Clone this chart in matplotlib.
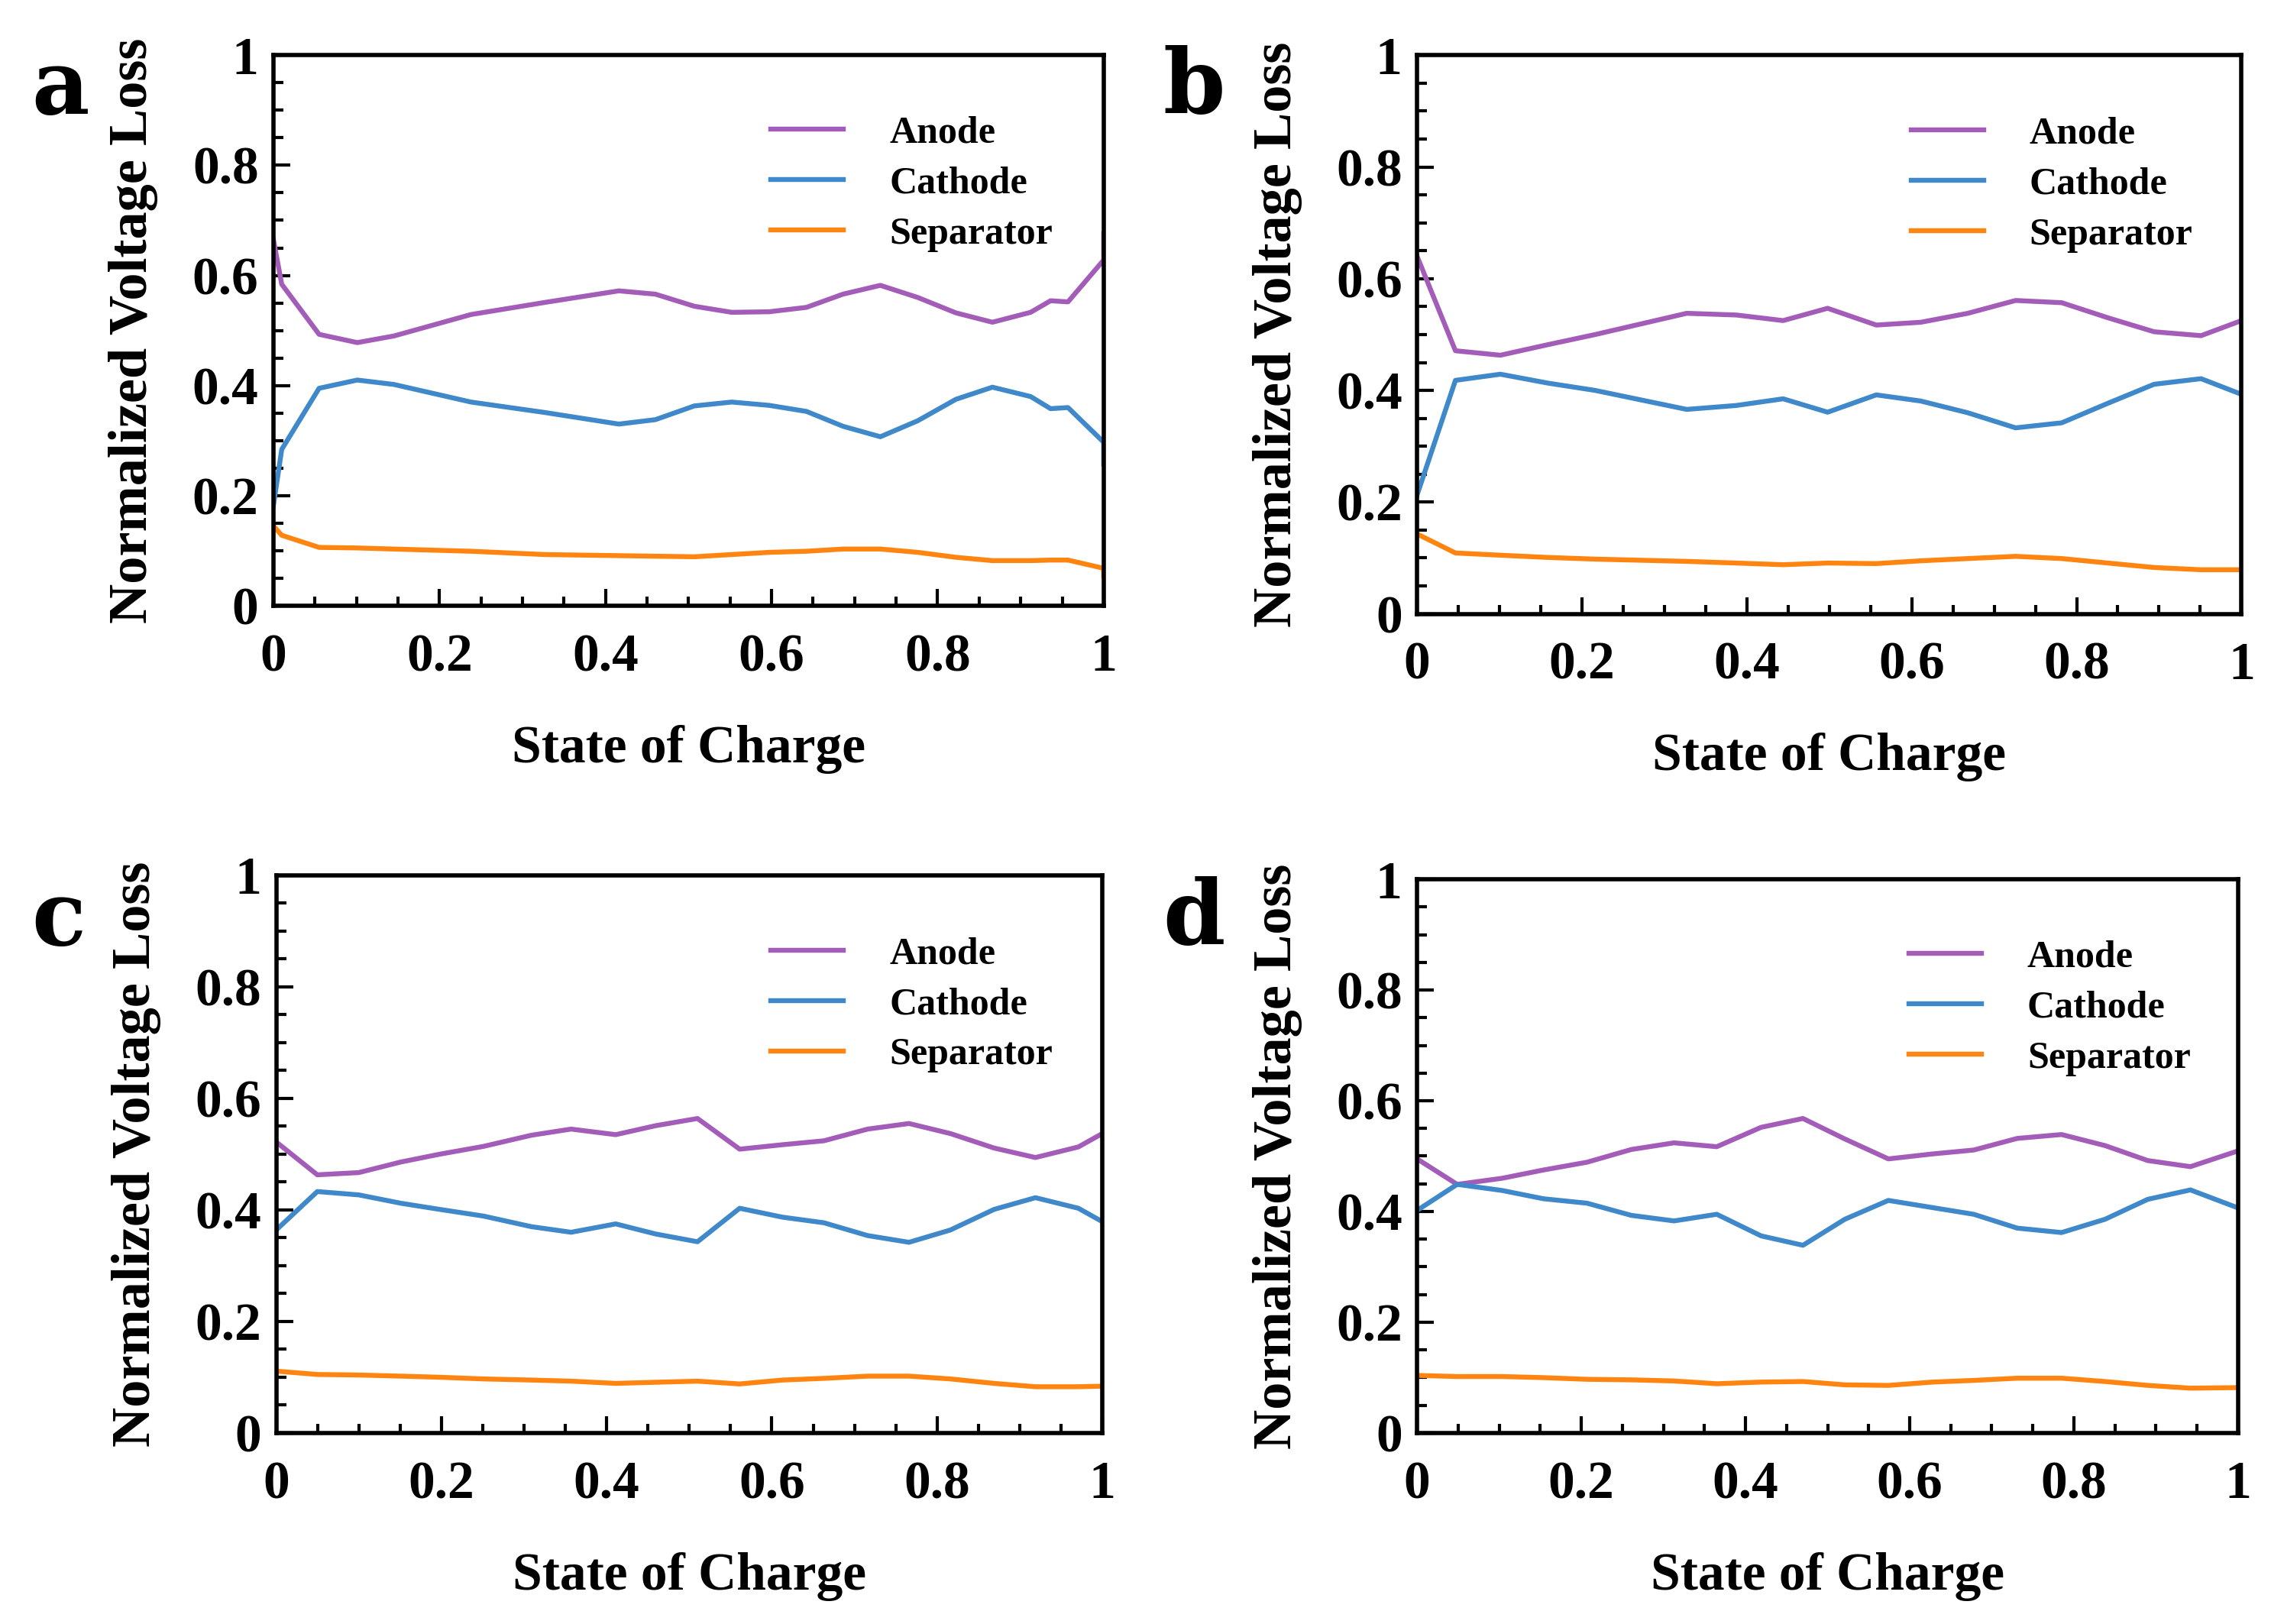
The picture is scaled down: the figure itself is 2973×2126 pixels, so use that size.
import matplotlib
matplotlib.use("Agg")
import matplotlib.pyplot as plt
from matplotlib.ticker import MultipleLocator

plt.rcParams['font.family'] = 'serif'
plt.rcParams['font.serif'] = ['Liberation Serif', 'DejaVu Serif']
plt.rcParams['font.weight'] = 'bold'

# colours of the three regions
c_anode = '#a45cb9'
c_cathode = '#3f88c9'
c_sep = '#ff8410'

# panel a
soc_a = [0, 0.01, 0.055, 0.101, 0.145, 0.238, 0.327, 0.416, 0.46, 0.507, 0.552, 0.597,
         0.642, 0.686, 0.731, 0.776, 0.822, 0.866, 0.912, 0.936, 0.957, 1.0, 1.0]
anode_a = [0.665, 0.584, 0.493, 0.478, 0.490, 0.529, 0.551, 0.572, 0.566, 0.544, 0.533, 0.534,
           0.542, 0.566, 0.582, 0.560, 0.532, 0.515, 0.533, 0.554, 0.552, 0.628, 0.676]
cathode_a = [0.182, 0.284, 0.395, 0.410, 0.402, 0.370, 0.351, 0.330, 0.338, 0.363, 0.370, 0.364,
             0.353, 0.326, 0.307, 0.336, 0.375, 0.397, 0.380, 0.358, 0.360, 0.297, 0.257]
sep_a = [0.145, 0.128, 0.106, 0.105, 0.103, 0.099, 0.093, 0.091, 0.090, 0.089, 0.093, 0.097,
         0.099, 0.103, 0.103, 0.097, 0.088, 0.082, 0.082, 0.083, 0.083, 0.068, 0.054]

# panel b
soc_b = [0, 0.0465, 0.101, 0.159, 0.216, 0.327, 0.387, 0.444, 0.498, 0.557, 0.611, 0.668,
         0.726, 0.782, 0.838, 0.894, 0.951, 1.0]
anode_b = [0.640, 0.471, 0.463, 0.482, 0.500, 0.538, 0.535, 0.525, 0.547, 0.517, 0.522, 0.538,
           0.561, 0.557, 0.530, 0.505, 0.498, 0.525]
cathode_b = [0.213, 0.418, 0.429, 0.413, 0.400, 0.366, 0.373, 0.385, 0.361, 0.392, 0.381, 0.360,
             0.333, 0.342, 0.377, 0.411, 0.421, 0.393]
sep_b = [0.143, 0.109, 0.105, 0.101, 0.098, 0.094, 0.091, 0.088, 0.091, 0.090, 0.095, 0.099,
         0.103, 0.099, 0.091, 0.083, 0.079, 0.079]

# panel c
soc_c = [0, 0.0498, 0.100, 0.151, 0.198, 0.251, 0.309, 0.357, 0.411, 0.459, 0.510, 0.561,
         0.613, 0.663, 0.716, 0.766, 0.816, 0.869, 0.919, 0.971, 1.0]
anode_c = [0.522, 0.463, 0.467, 0.486, 0.500, 0.514, 0.534, 0.545, 0.535, 0.551, 0.564, 0.509,
           0.517, 0.524, 0.545, 0.555, 0.537, 0.511, 0.494, 0.513, 0.537]
cathode_c = [0.364, 0.433, 0.427, 0.412, 0.401, 0.389, 0.370, 0.360, 0.375, 0.357, 0.343, 0.403,
             0.387, 0.377, 0.354, 0.342, 0.364, 0.401, 0.422, 0.403, 0.379]
sep_c = [0.111, 0.105, 0.104, 0.102, 0.100, 0.097, 0.095, 0.093, 0.089, 0.091, 0.093, 0.088,
         0.095, 0.098, 0.102, 0.102, 0.097, 0.089, 0.083, 0.083, 0.084]

# panel d
soc_d = [0, 0.0488, 0.1035, 0.154, 0.207, 0.261, 0.313, 0.365, 0.419, 0.470, 0.521, 0.574,
         0.628, 0.678, 0.731, 0.785, 0.838, 0.890, 0.942, 0.999]
anode_d = [0.495, 0.449, 0.460, 0.475, 0.489, 0.512, 0.524, 0.517, 0.552, 0.568, 0.531, 0.495,
           0.504, 0.511, 0.532, 0.539, 0.519, 0.492, 0.481, 0.509]
cathode_d = [0.402, 0.449, 0.438, 0.423, 0.415, 0.393, 0.383, 0.395, 0.356, 0.339, 0.386, 0.420,
             0.407, 0.395, 0.370, 0.362, 0.386, 0.422, 0.439, 0.407]
sep_d = [0.104, 0.102, 0.102, 0.100, 0.097, 0.096, 0.094, 0.089, 0.092, 0.093, 0.087, 0.086,
         0.092, 0.095, 0.099, 0.099, 0.093, 0.086, 0.081, 0.082]

panels = [
    ('a', soc_a, anode_a, cathode_a, sep_a, [0.1204, 0.627, 0.3656, 0.339], (0.014, 0.930)),
    ('b', soc_b, anode_b, cathode_b, sep_b, [0.624, 0.622, 0.363, 0.344], (0.512, 0.930)),
    ('c', soc_c, anode_c, cathode_c, sep_c, [0.1216, 0.1176, 0.3638, 0.3434], (0.014, 0.418)),
    ('d', soc_d, anode_d, cathode_d, sep_d, [0.624, 0.1176, 0.3615, 0.341], (0.512, 0.418)),
]

tick_vals = [0, 0.2, 0.4, 0.6, 0.8, 1]
tick_txt = ['0', '0.2', '0.4', '0.6', '0.8', '1']

fig = plt.figure(figsize=(14.865, 10.63), dpi=200)

for letter, soc, an, ca, se, pos, lpos in panels:
    ax = fig.add_axes(pos)
    ax.plot(soc, an, color=c_anode, lw=2.3, label='Anode')
    ax.plot(soc, ca, color=c_cathode, lw=2.3, label='Cathode')
    ax.plot(soc, se, color=c_sep, lw=2.3, label='Separator')
    ax.set_xlim(0, 1)
    ax.set_ylim(0, 1)
    ax.set_xticks(tick_vals)
    ax.set_xticklabels(tick_txt)
    ax.set_yticks(tick_vals)
    ax.set_yticklabels(tick_txt)
    ax.xaxis.set_minor_locator(MultipleLocator(0.05))
    ax.yaxis.set_minor_locator(MultipleLocator(0.05))
    ax.tick_params(which='both', direction='in', top=False, right=False, width=1.5)
    ax.tick_params(which='major', length=8, labelsize=25)
    ax.tick_params(which='minor', length=4.5)
    ax.tick_params(axis='x', which='major', pad=13)
    ax.tick_params(axis='y', which='major', pad=7)
    for sp in ax.spines.values():
        sp.set_linewidth(2)
    ax.set_xlabel('State of Charge', fontsize=25, fontweight='bold', labelpad=20)
    ax.set_ylabel('Normalized Voltage Loss', fontsize=26, fontweight='bold', labelpad=16)
    ax.legend(loc='upper left', bbox_to_anchor=(0.599, 0.89), frameon=False, fontsize=18,
              handlelength=1.9, handletextpad=1.2, labelspacing=0.4, borderpad=0,
              borderaxespad=0)
    fig.text(lpos[0], lpos[1], letter, fontsize=42, fontweight='bold', family='DejaVu Serif')

fig.savefig('out.png', dpi=200)
